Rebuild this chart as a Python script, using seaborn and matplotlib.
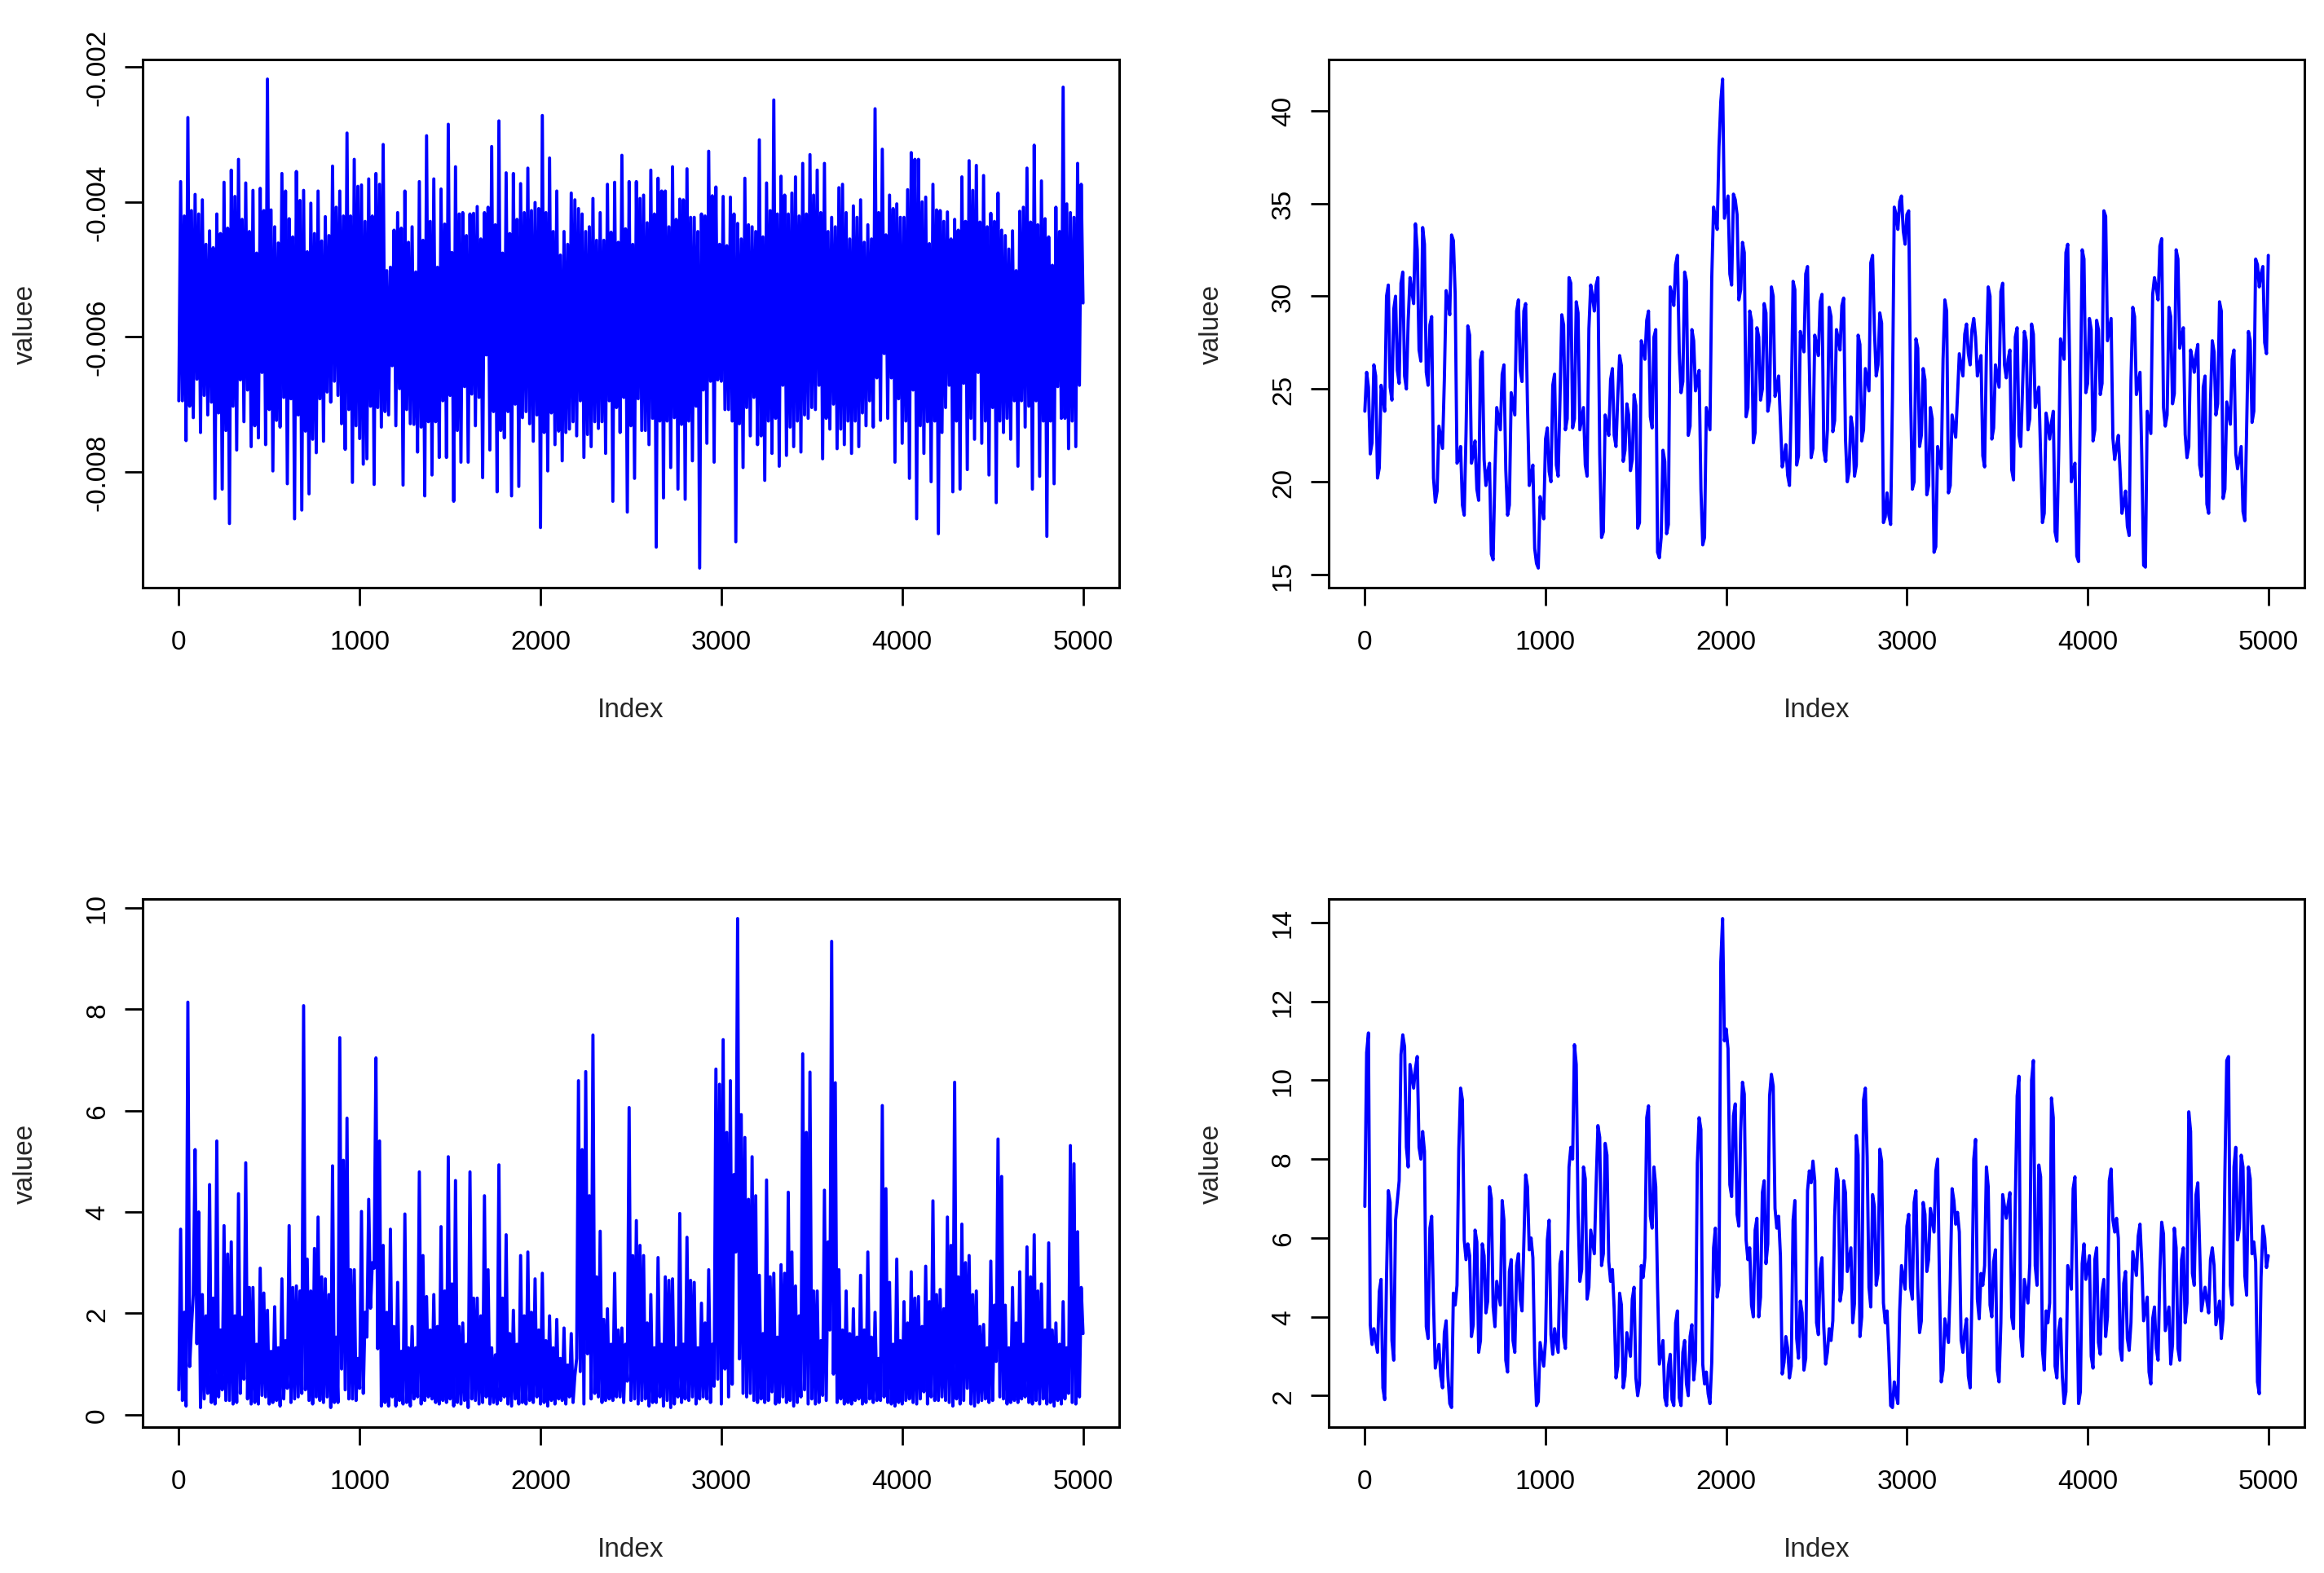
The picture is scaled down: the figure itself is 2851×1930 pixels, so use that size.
import numpy as np
import matplotlib
matplotlib.use("Agg")
import matplotlib.pyplot as plt
import seaborn as sns

# ---------------- data ----------------
# Top-left series in thousandths. Per 40-step block: big trough, big peak,
# band-edge trough, band-edge peak (Index 0,10,20,30 within the block).
tl_troughs = [
    -6.95, -7.54, -7.20, -7.42, -7.16, -8.40, -8.26, -8.77, -7.68, -7.26,
    -7.63, -7.50, -7.60, -7.99, -7.34, -8.18, -8.70, -8.57, -8.33, -7.72,
    -7.55, -6.97, -6.87, -7.67, -8.16, -7.51, -7.81, -8.19, -7.34, -7.16,
    -7.32, -8.20, -7.29, -7.71, -8.36, -8.05, -7.79, -7.79, -8.44, -7.86,
    -7.86, -7.32, -8.09, -7.68, -8.30, -7.50, -8.36, -8.22, -7.11, -7.55,
    -8.83, -7.99, -7.60, -7.84, -7.37, -7.47, -7.79, -7.63, -7.36, -7.73,
    -8.44, -7.42, -8.60, -8.10, -7.39, -7.60, -9.12, -8.39, -7.94, -8.26,
    -8.41, -7.84, -9.43, -7.58, -7.86, -6.66, -7.08, -9.04, -7.94, -7.47,
    -7.60, -8.13, -7.73, -7.92, -7.76, -7.63, -7.71, -7.21, -7.08, -7.81,
    -7.37, -7.66, -7.60, -7.73, -7.63, -7.32, -7.34, -7.24, -7.21, -7.86,
    -7.58, -8.10, -8.70, -7.73, -8.15, -8.92, -7.05, -8.30, -8.26, -7.97,
    -7.52, -7.58, -8.05, -8.46, -7.42, -7.52, -7.92, -7.34, -8.26, -8.07,
    -8.96, -8.18, -7.21, -7.66, -7.63, -5.50,
]
tl_peaks = [
    -3.70, -2.75, -3.89, -3.97, -4.43, -4.18, -3.71, -3.53, -3.37, -3.72,
    -3.83, -3.80, -2.18, -4.37, -3.58, -4.25, -3.55, -3.83, -4.02, -3.84,
    -4.22, -3.47, -3.84, -2.98, -3.37, -3.75, -3.66, -3.58, -3.15, -4.97,
    -4.16, -3.84, -4.37, -3.70, -3.02, -3.66, -3.81, -2.85, -3.48, -4.16,
    -4.18, -4.07, -4.16, -3.18, -2.80, -3.57, -3.58, -3.73, -3.50, -4.01,
    -2.72, -3.35, -3.84, -4.44, -3.87, -4.10, -4.44, -3.95, -4.16, -3.74,
    -3.71, -3.31, -3.70, -3.70, -3.90, -3.53, -3.65, -3.84, -3.48, -3.96,
    -3.51, -4.23, -4.18, -3.25, -3.78, -3.92, -3.93, -4.32, -3.65, -4.37,
    -3.08, -3.72, -2.49, -3.62, -4.18, -3.63, -3.43, -3.30, -3.53, -3.43,
    -4.23, -3.79, -4.16, -4.06, -3.97, -4.34, -2.62, -3.22, -3.90, -4.03,
    -4.23, -3.27, -3.37, -3.93, -3.74, -4.13, -4.15, -4.26, -3.63, -3.39,
    -3.46, -3.61, -4.17, -3.87, -4.50, -4.43, -4.14, -3.50, -3.16, -3.69,
    -4.52, -4.08, -2.30, -4.16, -3.43,
]
tl_edge_troughs = [
    -6.95, -7.03, -6.63, -6.87, -6.97, -7.13, -7.39, -7.03, -6.64, -6.79,
    -7.32, -6.53, -7.08, -7.24, -6.90, -6.92, -7.16, -7.40, -7.52, -6.92,
    -6.82, -6.66, -7.29, -7.08, -7.32, -7.89, -7.03, -7.05, -7.11, -6.43,
    -6.77, -7.08, -7.30, -7.34, -7.26, -7.26, -6.95, -6.87, -7.39, -6.74,
    -6.85, -6.90, -6.27, -7.11, -7.39, -7.11, -7.00, -7.20, -7.29, -7.16,
    -7.42, -7.13, -7.40, -7.42, -7.26, -6.95, -7.45, -7.26, -7.26, -6.95,
    -7.05, -6.90, -7.32, -6.92, -7.39, -7.21, -7.25, -7.25, -7.20, -7.30,
    -7.25, -7.03, -6.79, -6.66, -6.64, -7.08, -7.25, -7.29, -7.05, -6.90,
    -7.47, -7.25, -7.21, -6.72, -7.34, -7.25, -7.16, -7.05, -6.72, -7.21,
    -7.00, -7.37, -7.25, -7.25, -7.13, -6.95, -6.61, -6.25, -6.61, -6.92,
    -7.25, -6.79, -7.32, -7.26, -7.25, -7.42, -6.72, -7.25, -6.69, -7.21,
    -6.53, -7.25, -7.05, -7.25, -7.21, -6.95, -6.95, -7.03, -6.95, -7.25,
    -7.25, -6.74, -7.21, -7.25, -6.72,
]
tl_edge_peaks = [
    -4.21, -4.13, -4.18, -4.63, -4.68, -4.47, -4.39, -3.92, -4.26, -4.44,
    -4.76, -4.13, -4.12, -4.61, -3.84, -4.52, -3.98, -4.74, -4.47, -4.58,
    -4.50, -4.08, -4.21, -4.21, -3.77, -4.29, -4.21, -3.74, -5.02, -4.42,
    -4.39, -4.60, -5.04, -4.57, -4.29, -4.97, -4.33, -4.75, -4.18, -4.50,
    -4.17, -4.55, -4.08, -4.34, -4.76, -4.47, -4.26, -4.16, -4.13, -4.10,
    -4.16, -4.44, -4.79, -4.63, -3.97, -4.18, -4.37, -4.57, -4.57, -4.45,
    -4.60, -4.40, -4.63, -3.95, -4.31, -4.18, -3.84, -4.37, -4.26, -3.97,
    -4.23, -4.44, -4.21, -3.91, -4.63, -4.65, -4.18, -4.55, -4.34, -4.44,
    -4.52, -4.13, -4.18, -3.90, -3.87, -4.21, -4.18, -3.90, -4.16, -4.44,
    -4.37, -3.74, -4.55, -4.23, -4.60, -4.55, -4.16, -4.49, -4.10, -4.23,
    -3.82, -3.37, -4.00, -4.62, -4.12, -4.29, -4.55, -4.42, -4.29, -3.83,
    -4.30, -4.37, -4.29, -4.42, -4.70, -5.02, -4.08, -4.30, -4.34, -4.25,
    -4.94, -4.44, -4.03, -4.23, -3.74,
]

# Bottom-left series, same block layout
bl_troughs = [
    0.49, 0.17, 2.37, 0.14, 0.42, 0.21, 0.49, 0.28, 0.24, 0.70,
    0.21, 0.21, 0.35, 0.24, 0.17, 0.52, 0.31, 0.42, 0.28, 0.35,
    0.24, 0.14, 0.24, 0.49, 0.31, 0.52, 1.53, 2.89, 0.17, 0.17,
    0.17, 0.21, 0.17, 0.35, 0.28, 0.31, 0.21, 0.24, 0.17, 0.21,
    0.14, 0.28, 0.24, 0.21, 0.21, 0.35, 0.17, 0.21, 0.21, 0.24,
    0.21, 0.17, 0.21, 0.28, 0.35, 1.11, 0.21, 0.31, 0.35, 0.28,
    0.28, 0.35, 0.66, 0.31, 0.28, 0.17, 0.24, 0.17, 0.14, 0.35,
    0.31, 0.35, 0.31, 0.31, 0.56, 0.21, 0.35, 3.21, 0.42, 0.42,
    0.24, 0.24, 0.45, 0.24, 0.24, 0.17, 0.35, 0.21, 0.21, 0.38,
    1.67, 0.24, 0.21, 0.21, 0.31, 0.24, 0.24, 0.28, 0.24, 0.17,
    0.21, 0.31, 0.21, 0.45, 0.35, 0.28, 0.28, 0.17, 0.21, 0.52,
    0.17, 0.28, 0.24, 1.05, 0.31, 0.24, 0.24, 0.35, 0.21, 0.21,
    0.21, 0.17, 0.21, 0.42, 0.21, 1.60,
]
bl_peaks = [
    3.66, 8.14, 5.23, 2.37, 4.54, 5.40, 3.73, 3.41, 4.36, 4.97,
    2.51, 2.89, 2.06, 2.13, 2.68, 3.73, 2.54, 8.07, 2.44, 3.90,
    2.68, 4.91, 7.44, 5.85, 2.86, 4.01, 4.25, 7.04, 3.34, 3.66,
    2.61, 3.96, 1.74, 4.79, 2.33, 2.37, 3.71, 5.09, 4.62, 1.81,
    4.79, 2.30, 4.32, 1.32, 4.93, 3.55, 2.06, 3.14, 3.21, 2.68,
    2.79, 1.95, 1.88, 1.71, 1.60, 6.59, 6.77, 7.49, 3.62, 2.09,
    2.79, 1.71, 6.06, 3.83, 3.14, 2.37, 3.10, 2.72, 2.68, 3.97,
    3.50, 2.61, 2.20, 2.86, 6.82, 7.40, 6.59, 9.79, 5.47, 5.09,
    2.75, 4.63, 2.79, 2.96, 4.39, 2.54, 7.12, 6.76, 2.44, 4.43,
    9.34, 2.86, 2.44, 2.09, 2.75, 3.21, 2.02, 6.10, 2.61, 3.07,
    2.23, 2.82, 2.33, 2.93, 4.22, 2.47, 3.90, 6.56, 3.76, 3.14,
    2.44, 1.78, 3.03, 5.44, 2.16, 2.51, 2.82, 3.31, 3.55, 2.58,
    3.39, 1.81, 2.23, 5.31, 3.61,
]
bl_edge_troughs = [
    0.28, 0.95, 1.40, 0.31, 0.24, 0.35, 0.28, 0.21, 0.42, 0.31,
    0.24, 0.38, 0.21, 0.28, 0.31, 0.24, 0.35, 0.49, 0.21, 0.28,
    0.35, 0.24, 0.90, 0.31, 0.28, 0.42, 2.10, 1.30, 0.24, 0.35,
    0.28, 0.24, 0.31, 0.21, 0.35, 0.24, 0.28, 0.31, 0.24, 0.28,
    0.31, 0.21, 0.35, 0.24, 0.28, 0.21, 0.31, 0.24, 0.28, 0.35,
    0.24, 0.28, 0.31, 0.21, 0.24, 0.85, 1.20, 0.42, 0.24, 0.31,
    0.35, 0.24, 0.28, 0.21, 0.31, 0.24, 0.35, 0.28, 0.21, 0.24,
    0.28, 0.21, 0.35, 0.24, 0.70, 0.90, 0.60, 1.10, 0.35, 0.28,
    0.31, 0.28, 0.21, 0.35, 0.28, 0.24, 0.49, 0.31, 0.24, 0.28,
    0.80, 0.31, 0.24, 0.28, 0.21, 0.31, 0.28, 0.35, 0.21, 0.24,
    0.28, 0.24, 0.31, 0.21, 0.28, 0.35, 0.24, 0.31, 0.28, 0.21,
    0.24, 0.31, 0.28, 0.35, 0.21, 0.28, 0.31, 0.24, 0.28, 0.31,
    0.24, 0.28, 0.31, 0.24, 0.35,
]
bl_edge_peaks = [
    2.02, 1.74, 4.00, 1.95, 2.30, 1.67, 3.17, 1.95, 1.92, 2.51,
    1.39, 2.40, 1.25, 1.32, 1.46, 2.51, 2.44, 3.07, 3.28, 2.72,
    2.37, 1.53, 5.02, 2.86, 1.11, 2.02, 3.00, 5.40, 2.02, 1.74,
    1.25, 1.32, 1.32, 3.14, 1.67, 1.74, 2.44, 2.58, 1.74, 1.39,
    2.30, 1.95, 2.86, 1.18, 2.30, 1.60, 1.39, 1.95, 2.02, 1.67,
    1.46, 1.32, 1.11, 0.98, 0.77, 5.23, 4.32, 2.72, 1.88, 1.39,
    1.67, 1.39, 3.14, 3.34, 1.81, 1.32, 1.39, 2.65, 1.32, 1.39,
    2.65, 1.32, 1.81, 1.39, 6.52, 5.57, 4.74, 5.92, 4.25, 4.32,
    1.60, 2.72, 1.53, 2.79, 3.21, 1.95, 5.57, 2.44, 1.46, 3.41,
    6.55, 1.67, 1.60, 1.53, 1.67, 1.53, 1.11, 4.46, 1.39, 1.46,
    1.81, 2.30, 1.74, 2.23, 2.37, 2.09, 3.34, 2.72, 3.00, 2.37,
    1.74, 1.32, 2.16, 4.70, 1.32, 1.81, 1.39, 2.72, 2.44, 1.67,
    1.67, 1.39, 1.32, 4.95, 2.51,
]

# Top-right series: values at Index 0,20,40,... and the jitter half-way (10,30,50,...)
tr_values = [
    23.8, 25.1, 22.1, 25.7, 20.75, 24.55, 30.0, 25.1, 29.3, 26.0,
    30.7, 25.7, 28.7, 30.25, 33.9, 27.1, 33.7, 25.9, 28.45, 20.2,
    19.5, 22.4, 25.5, 29.7, 33.3, 30.1, 21.2, 18.75, 22.6, 27.9,
    21.5, 19.6, 26.55, 21.2, 20.55, 16.1, 20.55, 23.4, 25.8, 20.65,
    18.75, 24.2, 29.2, 26.0, 29.2, 24.2, 20.3, 16.4, 15.35, 18.65,
    22.3, 20.55, 25.2, 20.9, 24.4, 28.45, 23.4, 30.7, 23.4, 29.1,
    23.4, 20.9, 28.25, 30.0, 30.6, 21.5, 17.3, 23.1, 25.5, 22.5,
    24.65, 26.25, 21.7, 23.6, 21.2, 24.1, 17.8, 27.2, 28.7, 23.5,
    27.8, 16.2, 17.0, 21.1, 17.7, 30.1, 31.7, 27.0, 25.4, 30.8,
    23.0, 27.6, 25.5, 19.6, 17.0, 23.4, 31.0, 34.25, 38.05, 41.7,
    34.8, 31.2, 35.5, 34.4, 30.35, 32.35, 24.0, 28.7, 22.65, 27.8,
    25.0, 29.1, 24.35, 30.0, 25.1, 23.2, 21.3, 20.35, 24.2, 30.35,
    21.4, 27.6, 31.2, 26.3, 21.8, 27.4, 29.7, 21.7, 22.8, 28.9,
    23.3, 27.7, 29.5, 22.3, 20.55, 22.9, 20.9, 27.4, 22.8, 25.5,
    31.8, 28.2, 26.3, 28.55, 18.1, 18.2, 24.55, 34.4, 35.1, 33.5,
    34.4, 24.9, 20.0, 27.2, 22.5, 25.5, 19.8, 23.4, 16.5, 21.3,
    26.6, 29.2, 19.8, 23.0, 24.65, 26.3, 27.95, 26.9, 28.2, 27.8,
    26.3, 21.4, 27.0, 30.0, 22.9, 25.7, 30.25, 26.3, 26.6, 20.65,
    27.8, 22.5, 25.1, 27.6, 23.4, 27.95, 24.55, 21.5, 18.3, 23.1,
    23.2, 17.3, 21.5, 27.2, 32.35, 26.65, 20.55, 16.0, 24.55, 32.0,
    25.3, 28.2, 22.8, 28.2, 25.3, 34.3, 28.2, 22.35, 21.9, 20.55,
    18.85, 17.6, 25.5, 28.9, 25.3, 21.3, 15.4, 23.2, 30.1, 30.45,
    32.7, 24.0, 23.6, 28.9, 24.75, 32.0, 27.8, 22.55, 21.9, 26.6,
    26.85, 20.9, 25.1, 18.8, 24.35, 27.0, 24.2, 29.2, 19.6, 23.7,
    26.6, 21.5, 21.3, 18.4, 22.8, 27.6, 23.8, 31.7, 31.2, 27.5, 32.2,
]
tr_between = [
    25.9, 21.5, 26.3, 20.2, 25.2, 23.8, 30.6, 24.4, 30.0, 25.3,
    31.3, 25.0, 31.0, 29.6, 32.5, 26.5, 32.8, 25.2, 28.9, 18.9,
    23.0, 21.8, 30.3, 29.0, 33.0, 21.0, 21.9, 18.2, 28.4, 21.0,
    22.2, 19.0, 27.0, 19.8, 21.0, 15.8, 24.0, 22.8, 26.3, 18.2,
    24.8, 23.6, 29.8, 25.4, 29.6, 19.8, 20.9, 15.6, 19.2, 18.0,
    22.9, 20.0, 25.8, 20.3, 29.0, 22.8, 31.0, 22.9, 29.7, 22.8,
    24.0, 20.3, 30.6, 29.2, 31.0, 17.0, 23.6, 22.5, 26.1, 21.9,
    26.8, 21.1, 24.2, 20.6, 24.7, 17.5, 27.6, 26.6, 29.2, 22.9,
    28.2, 15.9, 21.7, 17.2, 30.5, 29.5, 32.2, 24.8, 31.3, 22.5,
    28.2, 24.9, 26.0, 16.6, 24.0, 22.8, 34.8, 33.6, 40.5, 34.2,
    35.4, 30.6, 35.2, 29.8, 32.9, 23.5, 29.2, 22.1, 28.3, 24.4,
    29.6, 23.8, 30.5, 24.6, 25.7, 20.8, 22.0, 19.8, 30.8, 20.9,
    28.1, 27.0, 31.6, 21.3, 27.9, 26.8, 30.1, 21.1, 29.4, 22.7,
    28.2, 27.1, 29.9, 20.0, 23.5, 20.3, 27.9, 22.2, 26.1, 24.9,
    32.2, 25.7, 29.1, 17.8, 19.4, 17.7, 34.8, 33.6, 35.4, 32.8,
    34.6, 19.6, 27.7, 21.9, 26.1, 19.3, 24.0, 16.2, 21.9, 20.7,
    29.8, 19.4, 23.6, 22.4, 26.9, 25.7, 28.5, 26.3, 28.8, 25.7,
    26.8, 20.8, 30.5, 22.3, 26.3, 25.1, 30.7, 25.6, 27.1, 20.1,
    28.3, 21.9, 28.1, 22.8, 28.5, 24.0, 25.1, 17.8, 23.7, 22.3,
    23.8, 16.8, 27.7, 26.6, 32.8, 20.0, 21.0, 15.7, 32.5, 24.8,
    28.8, 22.2, 28.7, 24.7, 34.6, 27.6, 28.8, 21.2, 22.5, 18.3,
    19.5, 17.1, 29.4, 24.7, 25.9, 15.5, 23.8, 22.6, 31.0, 29.8,
    33.1, 23.0, 29.4, 24.2, 32.5, 27.2, 28.3, 21.3, 27.1, 25.9,
    27.4, 20.3, 25.7, 18.3, 27.6, 23.6, 29.7, 19.1, 24.3, 23.1,
    27.1, 20.7, 21.9, 17.9, 28.1, 23.2, 32.0, 30.5, 31.6, 26.9,
]

# Bottom-right series, same layout as the top-right one
br_values = [
    6.8, 11.2, 3.3, 3.4, 4.65, 2.2, 5.0, 6.9, 2.9, 6.95,
    10.65, 10.85, 7.8, 10.1, 10.3, 8.3, 8.7, 3.75, 6.25, 4.35,
    3.0, 2.5, 3.6, 2.5, 1.7, 4.3, 8.25, 9.5, 5.45, 5.55,
    3.8, 5.9, 3.4, 5.55, 4.4, 7.0, 3.75, 4.6, 6.95, 2.9,
    5.15, 3.4, 5.3, 4.45, 5.85, 7.3, 6.0, 2.95, 1.85, 3.05,
    3.4, 6.45, 3.05, 3.4, 5.35, 3.5, 5.0, 8.3, 10.9, 6.65,
    5.2, 7.5, 4.75, 5.9, 7.35, 8.55, 5.6, 8.1, 4.9, 4.2,
    2.75, 4.3, 2.5, 3.3, 4.45, 2.45, 2.3, 5.0, 9.05, 6.55,
    7.8, 4.75, 3.1, 1.95, 2.75, 1.9, 3.85, 1.95, 3.1, 2.3,
    3.5, 2.4, 7.9, 8.75, 2.3, 2.05, 2.85, 6.25, 4.8, 14.1,
    11.3, 7.35, 9.1, 6.6, 8.7, 9.65, 5.45, 4.3, 6.2, 4.0,
    7.15, 5.35, 9.6, 9.85, 6.25, 5.55, 2.85, 3.2, 2.75, 6.95,
    2.95, 4.1, 2.95, 7.7, 7.95, 3.85, 5.2, 3.75, 3.1, 3.4,
    6.55, 7.45, 4.7, 7.15, 5.45, 3.85, 8.6, 3.5, 9.5, 8.05,
    4.25, 6.8, 5.1, 7.95, 3.85, 3.1, 1.7, 2.05, 4.15, 5.0,
    6.3, 4.75, 6.9, 4.75, 3.9, 6.6, 5.45, 6.45, 7.7, 4.9,
    2.65, 3.65, 4.9, 6.95, 6.65, 3.4, 3.65, 2.5, 4.55, 8.5,
    3.95, 4.8, 7.8, 4.3, 5.4, 2.65, 3.85, 6.8, 6.85, 4.0,
    6.95, 10.1, 3.0, 4.65, 5.35, 10.5, 4.8, 7.55, 2.65, 3.85,
    9.55, 2.75, 3.65, 2.5, 2.1, 5.0, 7.25, 4.9, 2.1, 5.85,
    5.25, 3.0, 5.45, 3.35, 4.65, 3.5, 7.45, 6.45, 6.5, 3.2,
    4.85, 3.45, 3.85, 5.35, 6.05, 5.35, 4.2, 2.6, 3.95, 3.2,
    5.15, 6.1, 3.95, 2.8, 6.25, 3.2, 5.45, 3.85, 9.2, 5.1,
    7.1, 5.8, 4.45, 4.4, 5.45, 5.3, 4.1, 3.45, 7.7, 10.6,
    4.3, 8.3, 6.25, 7.8, 4.55, 7.5, 5.9, 2.35, 5.0, 6.0, 5.55,
]
br_between = [
    10.7, 3.8, 3.7, 3.1, 4.95, 1.9, 7.2, 3.4, 6.45, 7.45,
    11.15, 8.3, 10.4, 9.8, 10.6, 8.0, 8.2, 3.45, 6.55, 2.7,
    3.3, 2.2, 3.9, 1.8, 4.6, 4.8, 9.8, 5.95, 5.85, 3.5,
    6.2, 3.1, 5.85, 4.1, 7.3, 4.25, 4.9, 4.3, 6.45, 2.6,
    5.45, 3.1, 5.6, 4.15, 7.6, 5.7, 5.5, 1.75, 3.35, 2.75,
    5.95, 3.55, 3.7, 3.1, 5.65, 3.2, 7.8, 8.0, 10.4, 4.9,
    7.8, 4.45, 6.2, 5.6, 8.85, 5.3, 8.4, 5.4, 5.2, 2.45,
    4.6, 2.2, 3.6, 3.0, 4.75, 2.0, 5.3, 5.5, 9.35, 6.25,
    7.3, 2.8, 3.4, 1.75, 3.05, 1.75, 4.15, 1.75, 3.4, 2.0,
    3.8, 2.9, 9.05, 2.8, 2.6, 1.8, 5.75, 4.5, 13.0, 11.0,
    10.8, 7.05, 9.4, 6.3, 9.95, 5.95, 5.75, 4.0, 6.5, 4.5,
    7.45, 5.85, 10.15, 6.75, 6.55, 2.55, 3.5, 2.45, 6.45, 3.45,
    4.4, 2.65, 7.2, 7.4, 7.45, 3.55, 5.5, 2.8, 3.7, 3.9,
    7.75, 4.4, 7.45, 5.15, 5.75, 4.35, 8.1, 4.0, 9.8, 4.75,
    7.1, 4.8, 8.25, 4.35, 4.15, 1.75, 2.35, 1.8, 5.3, 4.7,
    6.6, 4.45, 7.2, 3.6, 6.9, 5.15, 6.75, 6.15, 8.0, 2.35,
    3.95, 3.35, 7.25, 6.35, 6.15, 3.1, 3.95, 2.2, 8.0, 4.45,
    5.1, 5.3, 7.3, 4.0, 5.7, 2.35, 7.1, 6.5, 7.15, 3.7,
    9.6, 3.5, 4.95, 4.35, 10.0, 5.3, 7.85, 3.15, 4.15, 4.35,
    9.05, 2.45, 3.95, 1.8, 5.3, 4.7, 7.55, 1.8, 5.35, 4.95,
    5.55, 2.7, 5.75, 3.05, 4.95, 4.0, 7.75, 6.15, 6.0, 2.9,
    5.15, 3.15, 5.65, 5.05, 6.35, 3.9, 4.5, 2.3, 4.25, 2.9,
    6.4, 3.65, 4.25, 3.3, 5.75, 2.9, 5.75, 4.35, 8.7, 4.8,
    7.4, 4.15, 4.75, 4.1, 5.75, 3.8, 4.4, 3.95, 10.5, 4.8,
    7.8, 5.95, 8.1, 5.05, 7.8, 5.6, 5.4, 2.05, 6.3, 5.25,
]

x_ticks = [0, 1000, 2000, 3000, 4000, 5000]
tl_ticks = [-0.008, -0.006, -0.004, -0.002]
tl_tick_labels = ["-0.008", "-0.006", "-0.004", "-0.002"]
tr_ticks = [15, 20, 25, 30, 35, 40]
bl_ticks = [0, 2, 4, 6, 8, 10]
br_ticks = [2, 4, 6, 8, 10, 12, 14]
x_label = "Index"
y_label = "valuee"


def weave_blocks(troughs, peaks, edge_troughs, edge_peaks):
    n = min(len(troughs) - 1, len(peaks), len(edge_troughs), len(edge_peaks))
    out = []
    for i in range(n):
        out += [troughs[i], peaks[i], edge_troughs[i], edge_peaks[i]]
    out.append(troughs[n])
    return np.array(out, dtype=float)


def weave_pairs(values, between):
    n = min(len(values) - 1, len(between))
    out = []
    for i in range(n):
        out += [values[i], between[i]]
    out.append(values[n])
    return np.array(out, dtype=float)


tl_series = weave_blocks(tl_troughs, tl_peaks, tl_edge_troughs, tl_edge_peaks) * 1e-3
bl_series = weave_blocks(bl_troughs, bl_peaks, bl_edge_troughs, bl_edge_peaks)
tr_series = weave_pairs(tr_values, tr_between)
br_series = weave_pairs(br_values, br_between)

# ---------------- style ----------------
sns.set_style("white")
plt.rcParams["font.family"] = ["Liberation Sans", "DejaVu Sans"]
plt.rcParams["axes.unicode_minus"] = False

W, H = 2851, 1931
fig = plt.figure(figsize=(W / 100, H / 100), dpi=100)
fig.patch.set_facecolor("white")

box_l = [175, 1630]
box_r = [1373, 2827]
box_t = [74, 1104]
box_b = [722, 1752]

FS = 24
BLUE = "#0000FF"

panels = [
    (0, 0, tl_series, tl_ticks, tl_tick_labels),
    (1, 0, tr_series, tr_ticks, [str(t) for t in tr_ticks]),
    (0, 1, bl_series, bl_ticks, [str(t) for t in bl_ticks]),
    (1, 1, br_series, br_ticks, [str(t) for t in br_ticks]),
]

for col, row, series, yt, ytl in panels:
    l, r = box_l[col], box_r[col]
    t, b = box_t[row], box_b[row]
    ax = fig.add_axes([l / W, 1 - b / H, (r - l) / W, (b - t) / H])
    idx = np.linspace(0, 5000, len(series))
    sns.lineplot(x=idx, y=series, ax=ax, color=BLUE, linewidth=2.8,
                 estimator=None, sort=False)
    ax.margins(x=0.04, y=0.04)
    ax.set_xticks(x_ticks)
    ax.set_xticklabels([str(v) for v in x_ticks], fontsize=FS)
    ax.set_yticks(yt)
    ax.set_yticklabels(ytl, fontsize=FS, rotation=90, va="center", ha="right")
    ax.tick_params(axis="both", direction="out", length=15.8, width=2.0,
                   color="black", labelcolor="black", left=True, bottom=True)
    ax.tick_params(axis="x", pad=21)
    ax.tick_params(axis="y", pad=13)
    for s in ax.spines.values():
        s.set_visible(True)
        s.set_color("black")
        s.set_linewidth(2.2)
    ax.grid(False)
    ax.set_facecolor("white")
    ax.set_xlabel(x_label, fontsize=FS, va="center", ha="center")
    ax.set_ylabel(y_label, fontsize=FS, va="center", ha="center", rotation=90)
    ax.xaxis.set_label_coords(0.5, -150 / (b - t))
    ax.yaxis.set_label_coords(-144 / (r - l), 0.5)

fig.savefig("out.png", dpi=100, facecolor="white")
